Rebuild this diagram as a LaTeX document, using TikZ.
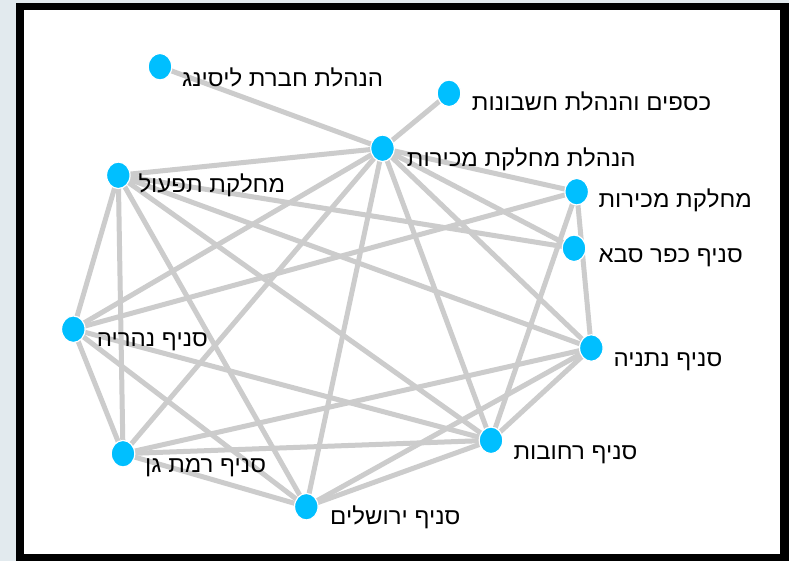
\documentclass[tikz,border=0pt]{standalone}
\usepackage{fontspec}
\newfontfamily\hebfont[Script=Hebrew,FakeStretch=1.045]{Liberation Sans}
\TeXXeTstate=1
\usetikzlibrary{shapes.geometric,backgrounds}
\definecolor{bgc}{HTML}{E2EAEE}
\definecolor{nodec}{HTML}{00BFFF}
\definecolor{edgec}{HTML}{CCCCCC}
\begin{document}
\begin{tikzpicture}[x=1pt,y=-1pt,
  vtx/.style={ellipse, fill=nodec, draw=white, line width=1.2pt, minimum width=23.5pt, minimum height=26.5pt, inner sep=0pt},
  lbl/.style={anchor=base west, inner sep=0pt, font=\hebfont\fontsize{23}{27}\selectfont, text=black},
  link/.style={draw=edgec, line width=5pt}]
\useasboundingbox (0,0) rectangle (789,561);
\begin{pgfonlayer}{background}
\fill[bgc] (0,0) rectangle (789,561);
\fill[black] (16,3) rectangle (789,561);
\fill[white] (24,10.5) rectangle (780,554);
\end{pgfonlayer}
% vertices
\node[vtx] (L) at (160,66.7) {};
\node[vtx] (F) at (449,93.3) {};
\node[vtx] (H) at (382.5,148.3) {};
\node[vtx] (O) at (118.3,175.3) {};
\node[vtx] (S) at (576.7,191.7) {};
\node[vtx] (K) at (574,248.3) {};
\node[vtx] (N) at (73.3,329.2) {};
\node[vtx] (T) at (591.3,348) {};
\node[vtx] (R) at (491,440.3) {};
\node[vtx] (G) at (123,453.7) {};
\node[vtx] (J) at (306.3,506.7) {};
% labels
\node[lbl] (tL) at (182,87) {\beginR הנהלת חברת ליסינג\endR};
\node[lbl] (tF) at (471.7,111) {\beginR כספים והנהלת חשבונות\endR};
\node[lbl] (tH) at (406.7,166.7) {\beginR הנהלת מחלקת מכירות\endR};
\node[lbl] (tO) at (138.3,192.7) {\beginR מחלקת תפעול\endR};
\node[lbl] (tS) at (598.3,207.3) {\beginR מחלקת מכירות\endR};
\node[lbl] (tK) at (598.3,262.7) {\beginR סניף כפר סבא\endR};
\node[lbl] (tN) at (96.7,346.7) {\beginR סניף נהריה\endR};
\node[lbl] (tT) at (613.3,366) {\beginR סניף נתניה\endR};
\node[lbl] (tR) at (513.3,459.3) {\beginR סניף רחובות\endR};
\node[lbl] (tG) at (145,472.7) {\beginR סניף רמת גן\endR};
\node[lbl] (tJ) at (330,524.3) {\beginR סניף ירושלים\endR};
% edges
\begin{pgfonlayer}{background}
\foreach \a/\b in {L/H,F/H,H/O,H/N,H/G,H/J,H/R,H/T,H/K,H/S,
  O/K,O/T,O/N,O/G,O/J,O/R,
  N/S,N/G,N/J,N/R,
  G/J,G/R,G/T,
  J/R,J/T,
  R/T,S/R,S/T}
  \draw[link] (\a.center) -- (\b.center);
\end{pgfonlayer}
\end{tikzpicture}
\end{document}
